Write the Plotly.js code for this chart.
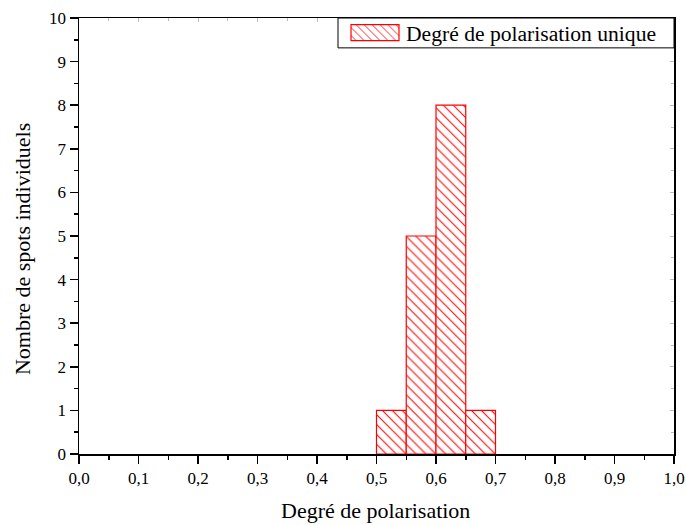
<!DOCTYPE html>
<html>
<head>
<meta charset="utf-8">
<script src="https://cdn.plot.ly/plotly-3.0.1.min.js"></script>
<style>html,body{margin:0;padding:0;background:#fff}#chart{width:686px;height:525px}</style>
</head>
<body>
<div id="chart"></div>
<script>
const binStarts = [0.50, 0.55, 0.60, 0.65];
const binWidth = 0.05;
const counts = [1, 5, 8, 1];
const seriesName = "Degré de polarisation unique";
const xTitle = "Degré de polarisation";
const yTitle = "Nombre de spots individuels";

const centers = binStarts.map(s => s + binWidth / 2);
const font = "Liberation Serif";

const trace = {
  type: "bar",
  x: centers,
  y: counts,
  width: binStarts.map(() => binWidth),
  name: seriesName,
  showlegend: true,
  marker: {
    color: "white",
    line: {color: "#ff0000", width: 1.2},
    pattern: {shape: "\\", fgcolor: "#ff0000", bgcolor: "white", size: 7, solidity: 0.15}
  },
  hoverinfo: "skip"
};

const ghost = {type: "scatter", x: [0], y: [0], xaxis: "x2", yaxis: "y2", mode: "markers",
  marker: {opacity: 0}, showlegend: false, hoverinfo: "skip"};

const layout = {
  width: 686, height: 525,
  margin: {l: 79, r: 12, t: 16, b: 71},
  paper_bgcolor: "white", plot_bgcolor: "white",
  separators: ", ",
  font: {family: font, size: 17, color: "black"},
  showlegend: true,
  legend: {x: 0.4353, xanchor: "left", y: 1.0137, yanchor: "top", borderwidth: 0,
    bgcolor: "rgba(0,0,0,0)", font: {family: font, size: 21.6, color: "black"}, itemwidth: 58, tracegroupgap: 0},
  shapes: [
    {type: "rect", xref: "paper", yref: "paper", x0: 0.4353, x1: 1, y0: 0.9315, y1: 1,
      line: {color: "black", width: 1}, fillcolor: "white", layer: "above"}
  ],
  annotations: [
    {text: xTitle, xref: "paper", yref: "paper", x: 0.4983, y: -0.130, xanchor: "center", yanchor: "middle",
      showarrow: false, font: {family: font, size: 22, color: "black"}},
    {text: yTitle, xref: "paper", yref: "paper", x: -0.0958, y: 0.470, xanchor: "center", yanchor: "middle",
      textangle: -90, showarrow: false, font: {family: font, size: 22, color: "black"}}
  ],
  xaxis: {
    range: [0, 1], dtick: 0.1, tick0: 0, tickformat: ".1f",
    showgrid: false, zeroline: false, showline: true, linecolor: "black", linewidth: 1.5,
    ticks: "outside", ticklen: 8, tickwidth: 1.5, tickcolor: "black",
    minor: {dtick: 0.05, ticks: "outside", ticklen: 4, tickwidth: 1.5, tickcolor: "black", showgrid: false},
    tickfont: {family: font, size: 17}
  },
  yaxis: {
    range: [0, 10], dtick: 1, tick0: 0,
    showgrid: false, zeroline: false, showline: true, linecolor: "black", linewidth: 1.5,
    ticks: "outside", ticklen: 8, tickwidth: 1.5, tickcolor: "black",
    minor: {dtick: 0.5, ticks: "outside", ticklen: 4, tickwidth: 1.5, tickcolor: "black", showgrid: false},
    tickfont: {family: font, size: 17}
  },
  xaxis2: {
    overlaying: "x", side: "top", range: [0, 1], dtick: 0.1, showticklabels: false,
    showgrid: false, zeroline: false, showline: true, linecolor: "black", linewidth: 1.5,
    ticks: "inside", ticklen: 4, tickwidth: 1, tickcolor: "#bbbbbb",
    minor: {dtick: 0.05, ticks: "inside", ticklen: 3, tickcolor: "#bbbbbb"}
  },
  yaxis2: {
    overlaying: "y", side: "right", range: [0, 10], dtick: 1, showticklabels: false,
    showgrid: false, zeroline: false, showline: true, linecolor: "black", linewidth: 1.5,
    ticks: "inside", ticklen: 4, tickwidth: 1, tickcolor: "#bbbbbb",
    minor: {dtick: 0.5, ticks: "inside", ticklen: 3, tickcolor: "#bbbbbb"}
  }
};

Plotly.newPlot("chart", [trace, ghost], layout, {displayModeBar: false, staticPlot: true}).then(gd => {
  // widen the legend swatch to a rectangle like the reference
  gd.querySelectorAll(".legend .legendpoints path").forEach(p => {
    p.setAttribute("d", "M27,8H-21V-8H27Z");
  });
});
</script>
</body>
</html>
